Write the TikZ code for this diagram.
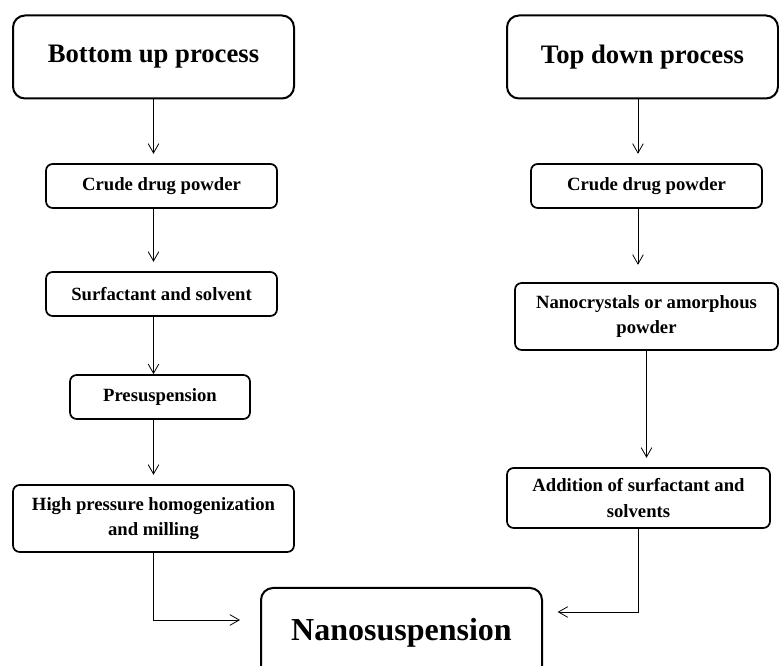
\documentclass[tikz,border=0pt]{standalone}
\usepackage{fontspec}
\setmainfont{Liberation Serif}
\usetikzlibrary{arrows.meta}
\usetikzlibrary{positioning}

\tikzset{
	headbox/.style={draw, line width=1.5pt, rounded corners=9pt, inner sep=0pt, font=\fontsize{20}{24}\selectfont\bfseries},
	stepbox/.style={draw, line width=1.3pt, rounded corners=5pt, inner sep=0pt, align=center, font=\fontsize{14}{19}\selectfont\bfseries},
	flow/.style={line width=0.6pt, -{Straight Barb[length=7pt,width=8pt]}, shorten >=7pt}
}

\begin{document}
\begin{tikzpicture}[x=0.75pt,y=-0.75pt]
				    \useasboundingbox (0,0) rectangle (779,666);
				    % Place nodes
				    \node [headbox, minimum width=210.75pt, minimum height=62.25pt] (bu) at (153.5,57) {Bottom up process};
				    \node [stepbox, minimum width=173.25pt, minimum height=33pt] (bu1) at (161.5,186) {Crude drug powder};
				    \node [stepbox, minimum width=173.25pt, minimum height=33pt] (bu2) at (161.5,294) {Surfactant and solvent};
				    \node [stepbox, minimum width=135pt, minimum height=33pt] (bu3) at (160,397) {Presuspension};
				    \node [stepbox, minimum width=210.75pt, minimum height=50.25pt] (bu4) at (153.5,518.5) {High pressure homogenization\\and milling};

				    \node [headbox, minimum width=203.25pt, minimum height=62.25pt] (td) at (642.5,57) {Top down process};
				    \node [stepbox, minimum width=173.25pt, minimum height=33pt] (td1) at (646.5,186) {Crude drug powder};
				    \node [stepbox, minimum width=197.25pt, minimum height=50.25pt] (td2) at (646.5,316.5) {Nanocrystals or amorphous\\powder};
				    \node [stepbox, minimum width=197.25pt, minimum height=45pt] (td3) at (638.5,498) {Addition of surfactant and\\solvents};

				    \node [headbox, font=\fontsize{24}{28}\selectfont\bfseries, minimum width=210.75pt, minimum height=67.5pt] (ns) at (401.5,633) {Nanosuspension};

					\draw [flow] (bu.south) -- (bu.south |- bu1.north);
					\draw [flow] (bu.south |- bu1.south) -- (bu.south |- bu2.north);
					\draw [flow, shorten >=0pt] (bu.south |- bu2.south) -- (bu.south |- bu3.north);
					\draw [flow] (bu.south |- bu3.south) -- (bu4.north);
					\draw [flow, shorten >=15pt] (bu4.south) |- ([yshift=9.75pt]ns.west);

					\draw [flow] ([xshift=-3.4pt]td.south) -- ([xshift=-3.4pt]td.south |- td1.north);
					\draw [flow, shorten >=13pt] ([xshift=-3.4pt]td.south |- td1.south) -- ([xshift=-3.4pt]td.south |- td2.north);
					\draw [flow] (td2.south) -- (td2.south |- td3.north);
					\draw [flow, shorten >=11pt] (td3.south) |- ([yshift=15.75pt]ns.east);
				\end{tikzpicture}
\end{document}
